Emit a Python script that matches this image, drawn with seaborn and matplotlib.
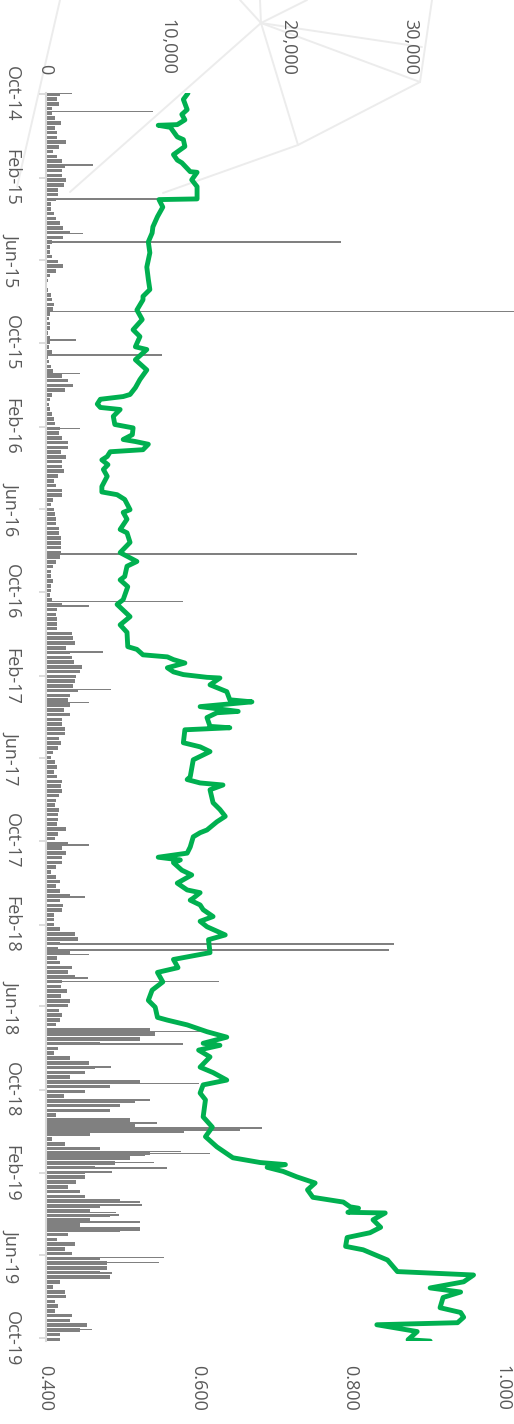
import numpy as np
import pandas as pd
import matplotlib
matplotlib.use("Agg")
import matplotlib.pyplot as plt
import matplotlib.dates as mdates
from matplotlib.lines import Line2D
import seaborn as sns

# ---------------------------------------------------------------- data
# weekly traded volume (units), weeks starting 29 Sep 2014
week_start = pd.date_range("2014-09-29", periods=262, freq="7D")
week_volume = [
    1190, 950, 1110, 530, 530, 780, 1280, 780, 950, 950,
    1690, 1110, 620, 950, 1360, 1600, 1360, 1360, 1690, 1520,
    1030, 1030, 860, 450, 450, 700, 860, 1190, 1440, 2020,
    1440, 530, 370, 370, 530, 1030, 1440, 860, 370, 210,
    120, 210, 450, 530, 700, 620, 370, 290, 370, 370,
    210, 370, 370, 290, 530, 210, 290, 450, 620, 1360,
    1850, 2260, 1600, 530, 370, 290, 370, 530, 700, 780,
    1190, 1110, 1360, 1850, 1850, 1280, 1690, 1360, 1360, 1520,
    1030, 700, 860, 1360, 1360, 620, 450, 700, 780, 860,
    860, 1110, 1110, 1280, 1280, 1280, 1280, 1190, 860, 620,
    450, 450, 620, 450, 450, 370, 530, 1360, 950, 860,
    950, 950, 950, 2180, 2260, 2430, 1690, 2020, 2180, 2350,
    3000, 2840, 2510, 2430, 2260, 2670, 2020, 1850, 2020, 1520,
    2020, 1360, 1360, 1600, 1600, 1110, 1280, 1030, 620, 450,
    780, 950, 700, 950, 1360, 1280, 1360, 1110, 860, 780,
    1110, 1030, 1030, 950, 1690, 1030, 780, 1850, 1360, 1690,
    1360, 1360, 860, 450, 860, 1190, 860, 1190, 2020, 1190,
    1440, 1360, 700, 700, 700, 1190, 2430, 2670, 1190, 1030,
    2020, 950, 1190, 2180, 1850, 2430, 1360, 1280, 1770, 1280,
    2020, 1850, 1110, 1360, 1190, 860, 8600, 9010, 7780, 4490,
    1030, 700, 2020, 3580, 4070, 3250, 2020, 7780, 5310, 3250,
    1520, 7370, 6130, 5310, 860, 6950, 7370, 8600, 3660, 530,
    1600, 4490, 8600, 6950, 5720, 4070, 3250, 3250, 2510, 1850,
    2840, 3250, 6130, 4490, 3660, 5310, 3660, 2840, 6130, 1850,
    950, 2430, 1600, 2180, 4490, 5060, 5060, 4490, 5310, 1190,
    620, 1600, 1690, 780, 1030, 780, 2180, 2020, 3420, 2840, 1190, 1190,
]

# single heavy-volume trading days
spike_dates = [
    "2014-09-30", "2014-10-27", "2015-01-13", "2015-03-04", "2015-04-24",
    "2015-05-06", "2015-08-16", "2015-09-27", "2015-10-19", "2015-11-15",
    "2016-02-04", "2016-08-06", "2016-10-15", "2016-10-21", "2016-12-28",
    "2017-02-21", "2017-03-12", "2017-10-07", "2017-12-22", "2018-03-01",
    "2018-03-10", "2018-03-17", "2018-04-20", "2018-04-25", "2018-07-08",
    "2018-07-26", "2018-08-29", "2018-09-22", "2018-10-16", "2018-11-19",
    "2018-11-26", "2018-11-29", "2018-12-02", "2018-12-31", "2019-01-03",
    "2019-01-06", "2019-01-16", "2019-01-24", "2019-01-30", "2019-03-15",
    "2019-03-19", "2019-03-30", "2019-04-03", "2019-04-13", "2019-04-22",
    "2019-04-25", "2019-06-04", "2019-06-12", "2019-06-27", "2019-07-01",
    "2019-09-10", "2019-09-18",
]
spike_volume = [
    2220, 8810, 3870, 12430, 3050,
    24360, 39500, 2550, 9550, 2800,
    2800, 25600, 11280, 3620, 4770,
    5430, 3620, 3620, 3210, 28720,
    28310, 3620, 3460, 14320, 13500,
    11280, 5430, 12670, 8560, 9140,
    17780, 15970, 11440, 11190, 13500,
    8150, 8970, 9960, 5510, 7740,
    7980, 5840, 6090, 7740, 7740,
    7740, 9790, 9380, 5510, 5270,
    3370, 3790,
]

# closing price
price_dates = [
    "2014-09-30", "2014-10-09", "2014-10-24", "2014-10-31", "2014-11-08",
    "2014-11-15", "2014-11-16", "2014-11-19", "2014-12-03", "2014-12-07",
    "2014-12-17", "2014-12-29", "2015-01-06", "2015-01-10", "2015-01-23",
    "2015-01-24", "2015-02-04", "2015-02-14", "2015-03-01", "2015-03-04",
    "2015-03-05", "2015-03-16", "2015-03-30", "2015-04-14", "2015-04-23",
    "2015-05-06", "2015-05-22", "2015-06-12", "2015-06-30", "2015-07-15",
    "2015-07-25", "2015-07-30", "2015-08-14", "2015-08-28", "2015-09-12",
    "2015-09-22", "2015-10-07", "2015-10-11", "2015-10-26", "2015-11-10",
    "2015-11-24", "2015-12-06", "2015-12-16", "2015-12-19", "2015-12-23",
    "2015-12-30", "2016-01-04", "2016-01-07", "2016-01-17", "2016-01-29",
    "2016-02-03", "2016-02-13", "2016-02-20", "2016-02-23", "2016-02-27",
    "2016-03-06", "2016-03-09", "2016-03-16", "2016-03-21", "2016-03-28",
    "2016-04-04", "2016-04-14", "2016-04-29", "2016-05-07", "2016-05-11",
    "2016-05-18", "2016-06-02", "2016-06-06", "2016-06-16", "2016-07-01",
    "2016-07-06", "2016-07-20", "2016-08-04", "2016-08-17", "2016-08-24",
    "2016-09-08", "2016-09-13", "2016-09-23", "2016-10-12", "2016-10-19",
    "2016-11-06", "2016-11-18", "2016-11-29", "2016-12-20", "2016-12-24",
    "2017-01-01", "2017-01-04", "2017-01-08", "2017-01-13", "2017-01-20",
    "2017-01-26", "2017-01-30", "2017-02-03", "2017-02-04", "2017-02-14",
    "2017-02-24", "2017-03-08", "2017-03-11", "2017-03-18", "2017-03-25",
    "2017-03-27", "2017-04-03", "2017-04-16", "2017-04-18", "2017-04-21",
    "2017-05-10", "2017-05-16", "2017-05-23", "2017-06-04", "2017-06-29",
    "2017-07-03", "2017-07-08", "2017-07-11", "2017-07-18", "2017-08-06",
    "2017-08-16", "2017-08-26", "2017-09-03", "2017-09-15", "2017-09-19",
    "2017-09-25", "2017-10-10", "2017-10-19", "2017-10-25", "2017-10-29",
    "2017-11-02", "2017-11-13", "2017-11-20", "2017-12-02", "2017-12-12",
    "2017-12-16", "2017-12-24", "2017-12-27", "2018-01-03", "2018-01-10",
    "2018-01-20", "2018-01-27", "2018-02-04", "2018-02-16", "2018-02-23",
    "2018-03-14", "2018-03-24", "2018-04-05", "2018-04-12", "2018-04-26",
    "2018-05-08", "2018-05-23", "2018-06-02", "2018-06-17", "2018-06-21",
    "2018-06-28", "2018-07-08", "2018-07-16", "2018-07-25", "2018-07-28",
    "2018-08-04", "2018-08-14", "2018-08-29", "2018-09-06", "2018-09-17",
    "2018-09-24", "2018-10-06", "2018-10-16", "2018-11-10", "2018-11-25",
    "2018-12-09", "2018-12-24", "2019-01-09", "2019-01-16", "2019-01-19",
    "2019-01-23", "2019-01-29", "2019-02-06", "2019-02-15", "2019-02-25",
    "2019-03-08", "2019-03-15", "2019-03-22", "2019-03-24", "2019-03-30",
    "2019-03-31", "2019-04-10", "2019-04-21", "2019-04-29", "2019-05-06",
    "2019-05-19", "2019-05-24", "2019-06-08", "2019-06-25", "2019-06-27",
    "2019-06-30", "2019-07-10", "2019-07-19", "2019-07-25", "2019-08-02",
    "2019-08-17", "2019-08-24", "2019-08-31", "2019-09-08", "2019-09-11",
    "2019-09-21", "2019-10-03", "2019-10-05",
]
price_values = [
    0.587, 0.581, 0.586, 0.579, 0.583,
    0.573, 0.548, 0.564, 0.573, 0.581,
    0.583, 0.568, 0.573, 0.579, 0.590,
    0.599, 0.592, 0.599, 0.599, 0.599,
    0.549, 0.554, 0.547, 0.541, 0.540,
    0.535, 0.537, 0.533, 0.535, 0.537,
    0.528, 0.528, 0.520, 0.527, 0.515,
    0.524, 0.518, 0.533, 0.518, 0.533,
    0.524, 0.518, 0.511, 0.502, 0.472,
    0.468, 0.472, 0.498, 0.489, 0.491,
    0.515, 0.514, 0.502, 0.518, 0.535,
    0.528, 0.485, 0.481, 0.474, 0.482,
    0.476, 0.481, 0.474, 0.474, 0.494,
    0.504, 0.511, 0.502, 0.507, 0.498,
    0.507, 0.511, 0.498, 0.520, 0.507,
    0.504, 0.498, 0.508, 0.502, 0.494,
    0.511, 0.498, 0.507, 0.508, 0.520,
    0.528, 0.560, 0.568, 0.583, 0.560,
    0.568, 0.581, 0.612, 0.629, 0.616,
    0.638, 0.642, 0.671, 0.603, 0.653,
    0.625, 0.612, 0.616, 0.642, 0.583,
    0.581, 0.603, 0.616, 0.594, 0.590,
    0.586, 0.603, 0.633, 0.616, 0.620,
    0.629, 0.636, 0.625, 0.612, 0.603,
    0.594, 0.590, 0.586, 0.548, 0.577,
    0.568, 0.579, 0.592, 0.573, 0.586,
    0.603, 0.594, 0.590, 0.603, 0.607,
    0.620, 0.603, 0.612, 0.636, 0.614,
    0.616, 0.568, 0.574, 0.547, 0.554,
    0.540, 0.535, 0.544, 0.547, 0.560,
    0.586, 0.612, 0.638, 0.607, 0.629,
    0.601, 0.616, 0.603, 0.620, 0.638,
    0.607, 0.603, 0.610, 0.607, 0.619,
    0.610, 0.625, 0.646, 0.682, 0.715,
    0.691, 0.712, 0.730, 0.754, 0.744,
    0.751, 0.791, 0.800, 0.811, 0.797,
    0.846, 0.830, 0.840, 0.826, 0.796,
    0.794, 0.817, 0.849, 0.862, 0.901,
    0.962, 0.949, 0.905, 0.945, 0.922,
    0.918, 0.945, 0.949, 0.941, 0.835,
    0.888, 0.876, 0.905,
]

tick_months = pd.date_range("2014-10-01", "2019-10-01", freq="4MS")
volume_ticks = [0, 10000, 20000, 30000]
price_ticks = [0.4, 0.6, 0.8, 1.0]

# ---------------------------------------------------------------- style
sns.set_theme(style="white")
plt.rcParams["font.family"] = ["Open Sans", "DejaVu Sans"]
TEXT = "#595959"
GREY_BAR = "#808080"
GREEN = "#00B050"
AXIS_GREY = "#d9d9d9"

W, H = 514, 1424
fig = plt.figure(figsize=(W / 100, H / 100), dpi=100)
fig.patch.set_facecolor("white")

# faint network emblem in the page background (figure pixels)
emblem_segments = [
    ((60, 0), (17, 187)), ((240, 0), (261, 23)), ((261, 23), (260, 0)),
    ((261, 23), (307, 0)), ((261, 23), (70, 192)), ((261, 23), (422, 47)),
    ((261, 23), (420, 82)), ((261, 23), (298, 145)), ((298, 145), (163, 193)),
    ((298, 145), (420, 82)), ((420, 82), (432, 0)),
]
for (x0, y0), (x1, y1) in emblem_segments:
    fig.add_artist(Line2D([x0 / W, x1 / W], [1 - y0 / H, 1 - y1 / H],
                          transform=fig.transFigure, color="#ececec",
                          lw=1.4, zorder=-5))

# plot area (rotated layout: time runs downwards)
top_px, bottom_px, left_px = 92.6, 1341.1, 45.5
ax = fig.add_axes([left_px / W, 1 - bottom_px / H,
                   1 - left_px / W, (bottom_px - top_px) / H])
ax.set_facecolor("none")

# volume bars
ax.barh(mdates.date2num(week_start), week_volume, height=5.2, align="edge",
        color=GREY_BAR, linewidth=0, zorder=2)
ax.barh(mdates.date2num(pd.to_datetime(spike_dates)), spike_volume,
        height=2.2, align="center", color=GREY_BAR, linewidth=0, zorder=2)

# price line on a twin axis
ax2 = ax.twiny()
ax2.set_facecolor("none")
price_df = pd.DataFrame({
    "date": mdates.date2num(pd.to_datetime(price_dates)),
    "price": price_values,
})
sns.lineplot(data=price_df, x="price", y="date", orient="y", sort=False,
             estimator=None, color=GREEN, linewidth=3.5, ax=ax2,
             solid_joinstyle="round", solid_capstyle="round")

# limits
ax.set_xlim(0, 38560)
ax2.set_xlim(0.4, 1.0151)
ax.set_ylim(mdates.date2num(pd.Timestamp("2019-10-05")),
            mdates.date2num(pd.Timestamp("2014-09-29")))

# volume axis on top
ax.xaxis.tick_top()
ax.set_xticks(volume_ticks)
ax.set_xticklabels([f"{v:,}" for v in volume_ticks], rotation=-90)
ax.tick_params(axis="x", length=0, pad=13, labelsize=13, labelcolor=TEXT)

# price axis at bottom
ax2.xaxis.tick_bottom()
ax2.set_xticks(price_ticks)
ax2.set_xticklabels([f"{p:.3f}" for p in price_ticks], rotation=-90)
ax2.tick_params(axis="x", length=0, pad=17, labelsize=13, labelcolor=TEXT)
ax2.set_xlabel("")
ax2.set_ylabel("")

# date axis on the left
ax.set_yticks(mdates.date2num(tick_months))
ax.set_yticklabels([d.strftime("%b-%y") for d in tick_months],
                   rotation=-90, va="center")
ax.tick_params(axis="y", length=5, width=1.3, color=AXIS_GREY, pad=13,
               labelsize=13, labelcolor=TEXT, left=True)
ax.set_xlabel("")
ax.set_ylabel("")

for name, sp in ax.spines.items():
    sp.set_visible(name == "left")
ax.spines["left"].set_color(AXIS_GREY)
ax.spines["left"].set_linewidth(1.5)
for sp in ax2.spines.values():
    sp.set_visible(False)

fig.savefig("out.png", dpi=100, facecolor="white")
